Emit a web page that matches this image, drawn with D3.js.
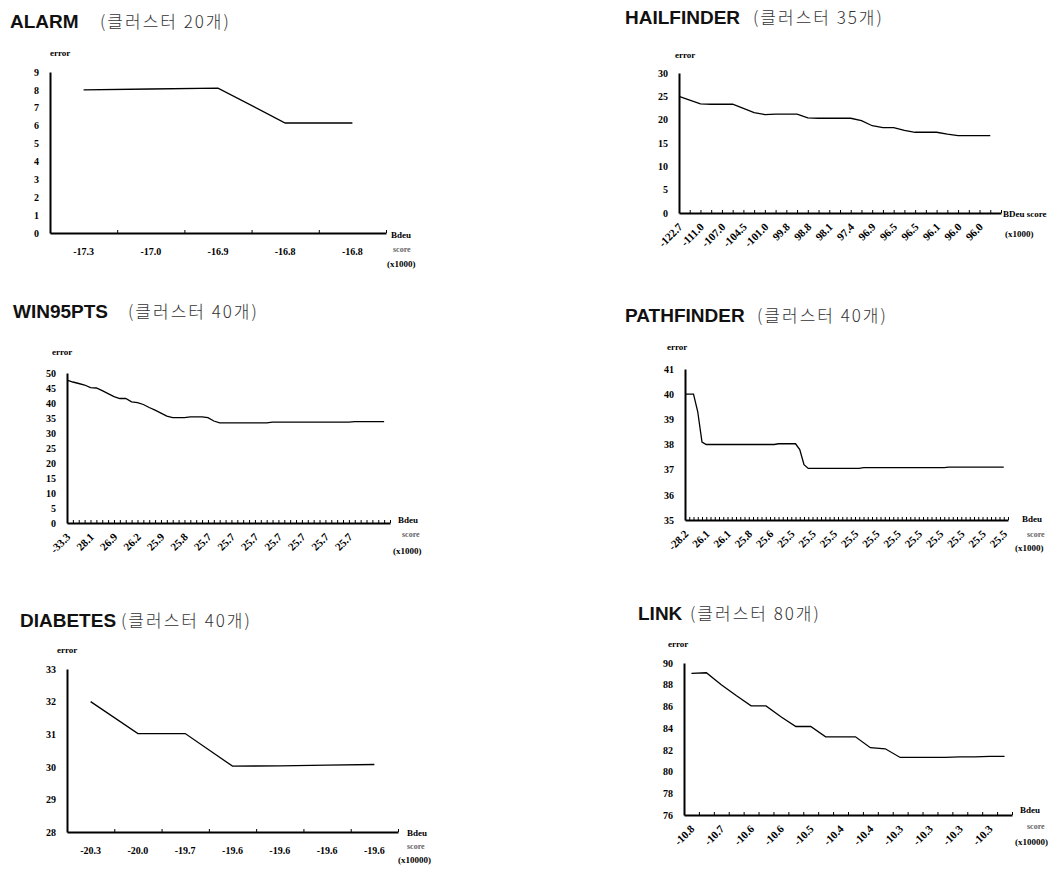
<!DOCTYPE html>
<html>
<head>
<meta charset="utf-8">
<script src="https://cdnjs.cloudflare.com/ajax/libs/d3/7.8.5/d3.min.js"></script>
<style>
  body { margin: 0; background: #fff; }
  .ttl { font-family: "Liberation Sans", Arial, sans-serif; font-weight: bold; font-size: 19px; fill: #111; }
  .kor { font-family: "Noto Sans CJK KR", sans-serif; font-weight: 300; font-size: 17px; letter-spacing: 2px; fill: #333; }
  .axis text { font-family: "Liberation Serif", "Times New Roman", serif; font-weight: bold; font-size: 10px; fill: #000; }
  .axis path, .axis line { stroke: #000; }
  .axis path { stroke-width: 2; }
  .xlab text { font-size: 10px; }
  .xlab.rot text { font-size: 11px; }
  .small { font-family: "Liberation Serif", "Times New Roman", serif; font-weight: bold; font-size: 9px; fill: #000; }
  .faint { fill: #666; font-size: 8px; }
</style>
</head>
<body>
<div class="chart"></div>
<script>

// ---- data ----

var alarmLabels = ["-17.3", "-17.0", "-16.9", "-16.8", "-16.8"]
var alarmError  = [8.0, 8.05, 8.1, 6.15, 6.15]
var alarmTicks  = [0, 1, 2, 3, 4, 5, 6, 7, 8, 9]

var hailLabels = ["-122.7", "-111.0", "-107.0", "-104.5", "-101.0", "99.8", "98.8", "98.1",
                  "97.4", "96.9", "96.5", "96.5", "96.1", "96.0", "96.0"]
var hailError  = [25.0, 24.2, 23.4, 23.3, 23.3, 23.3, 22.4, 21.5, 21.1, 21.2,
                  21.2, 21.2, 20.4, 20.3, 20.3, 20.3, 20.3, 19.8, 18.7, 18.3,
                  18.3, 17.7, 17.3, 17.3, 17.3, 16.9, 16.6, 16.6, 16.6, 16.6]
var hailTicks  = [0, 5, 10, 15, 20, 25, 30]

var winLabels = ["-33.3", "28.1", "26.9", "26.2", "25.9", "25.8", "25.7",
                 "25.7", "25.7", "25.7", "25.7", "25.7", "25.7"]
var winError  = [47.6, 47.0, 46.5, 46.0, 45.1, 45.0, 44.1, 43.1, 42.1, 41.5,
                 41.5, 40.4, 40.1, 39.5, 38.5, 37.6, 36.6, 35.6, 35.1, 35.1,
                 35.1, 35.4, 35.4, 35.4, 35.1, 34.0, 33.4, 33.4, 33.4, 33.4,
                 33.4, 33.4, 33.4, 33.4, 33.4, 33.6, 33.6, 33.6, 33.6, 33.6,
                 33.6, 33.6, 33.6, 33.6, 33.6, 33.6, 33.6, 33.6, 33.6, 33.8,
                 33.8, 33.8, 33.8, 33.8, 33.8]
var winTicks  = [0, 5, 10, 15, 20, 25, 30, 35, 40, 45, 50]

var pathLabels = ["-28.2", "26.1", "26.1", "25.8", "25.6", "25.5", "25.5", "25.5",
                  "25.5", "25.5", "25.5", "25.5", "25.5", "25.5", "25.5", "25.5"]
var pathError  = [40.0, 40.0, 40.0, 39.3, 38.1, 38.0, 38.0, 38.0, 38.0, 38.0,
                  38.0, 38.0, 38.0, 38.0, 38.0, 38.0, 38.0, 38.0, 38.0, 38.0,
                  38.0, 38.0, 38.03, 38.03, 38.03, 38.03, 38.03, 37.8, 37.2, 37.05,
                  37.05, 37.05, 37.05, 37.05, 37.05, 37.05, 37.05, 37.05, 37.05, 37.05,
                  37.05, 37.05, 37.08, 37.08, 37.08, 37.08, 37.08, 37.08, 37.08, 37.08,
                  37.08, 37.08, 37.08, 37.08, 37.08, 37.08, 37.08, 37.08, 37.08, 37.08,
                  37.08, 37.08, 37.1, 37.1, 37.1, 37.1, 37.1, 37.1, 37.1, 37.1,
                  37.1, 37.1, 37.1, 37.1, 37.1, 37.1]
var pathTicks  = [35, 36, 37, 38, 39, 40, 41]

var diabLabels = ["-20.3", "-20.0", "-19.7", "-19.6", "-19.6", "-19.6", "-19.6"]
var diabError  = [32.0, 31.02, 31.02, 30.02, 30.03, 30.05, 30.07]
var diabTicks  = [28, 29, 30, 31, 32, 33]

var linkLabels = ["-10.8", "-10.7", "-10.6", "-10.6", "-10.5", "-10.4", "-10.4",
                  "-10.3", "-10.3", "-10.3", "-10.3"]
var linkError  = [89.05, 89.1, 88.0, 87.0, 86.05, 86.05, 85.05, 84.15, 84.15, 83.2,
                  83.2, 83.2, 82.2, 82.1, 81.3, 81.3, 81.3, 81.3, 81.35, 81.35,
                  81.4, 81.4]
var linkTicks  = [76, 78, 80, 82, 84, 86, 88, 90]

// ---- panel layout ----

var panels = [
  { name: "ALARM", note: "(클러스터 20개)", labels: alarmLabels, values: alarmError, yTicks: alarmTicks,
    band: true, rotate: false, every: 1,
    x0: 50, x1: 386, yTop: 72, yBot: 233, title: [10, 28], noteX: 100, err: [50, 56],
    unit: [["Bdeu", 5, 5, ""], ["score", 7, 19, "faint"], ["(x1000)", 1, 34, ""]] },
  { name: "HAILFINDER", note: "(클러스터 35개)", labels: hailLabels, values: hailError, yTicks: hailTicks,
    band: false, rotate: true, every: 2,
    x0: 679, x1: 1001, yTop: 73, yBot: 213, title: [625, 24], noteX: 753, err: [675, 58],
    unit: [["BDeu score", 2, 4, ""], ["(x1000)", 4, 24, ""]] },
  { name: "WIN95PTS", note: "(클러스터 40개)", labels: winLabels, values: winError, yTicks: winTicks,
    band: false, rotate: true, every: 4,
    x0: 67, x1: 390, yTop: 373, yBot: 523, title: [13, 318], noteX: 128, err: [52, 355],
    unit: [["Bdeu", 8, 0, ""], ["score", 12, 14, "faint"], ["(x1000)", 3, 31, ""]] },
  { name: "PATHFINDER", note: "(클러스터 40개)", labels: pathLabels, values: pathError, yTicks: pathTicks,
    band: false, rotate: true, every: 5,
    x0: 685, x1: 1008, yTop: 369, yBot: 520, title: [625, 322], noteX: 757, err: [667, 350],
    unit: [["Bdeu", 14, 2, ""], ["score", 19, 17, "faint"], ["(x1000)", 7, 31, ""]] },
  { name: "DIABETES", note: "(클러스터 40개)", labels: diabLabels, values: diabError, yTicks: diabTicks,
    band: true, rotate: false, every: 1,
    x0: 67, x1: 398, yTop: 669, yBot: 832, title: [20, 627], noteX: 121, err: [57, 653],
    unit: [["Bdeu", 9, 4, ""], ["score", 9, 17, "faint"], ["(x10000)", 0, 31, ""]] },
  { name: "LINK", note: "(클러스터 80개)", labels: linkLabels, values: linkError, yTicks: linkTicks,
    band: true, rotate: true, every: 2,
    x0: 684, x1: 1012, yTop: 663, yBot: 815, title: [638, 620], noteX: 690, err: [668, 647],
    unit: [["Bdeu", 8, -2, ""], ["score", 15, 14, "faint"], ["(x10000)", 3, 30, ""]] }
]

var svg = d3.select(".chart")
  .append("svg")
    .attr("width", 1053)
    .attr("height", 870)

function drawPanel(p) {
  var n = p.values.length
  var g = svg.append("g")

  // band scale for categories; linear one for the tick marks along the axis
  var x = d3.scaleBand()
            .domain(d3.range(n))
            .range([p.x0, p.x1])
  var xt = d3.scaleLinear()
            .domain([0, n])
            .range([p.x0, p.x1])
  var y = d3.scaleLinear()
            .domain([p.yTicks[0], p.yTicks[p.yTicks.length - 1]])
            .range([p.yBot, p.yTop])

  function px(i) { return p.band ? x(i) + x.bandwidth() / 2 : xt(i) }

  // title
  g.append("text").attr("class", "ttl")
    .attr("x", p.title[0]).attr("y", p.title[1])
    .text(p.name)
  g.append("text").attr("class", "kor")
    .attr("x", p.noteX).attr("y", p.title[1])
    .text(p.note)

  g.append("text").attr("class", "small")
    .attr("x", p.err[0]).attr("y", p.err[1])
    .text("error")

  // y axis
  g.append("g")
      .attr("class", "axis")
      .attr("transform", "translate(" + p.x0 + ",0)")
      .call(d3.axisLeft(y)
              .tickValues(p.yTicks)
              .tickFormat(d3.format("d"))
              .tickSize(0)
              .tickPadding(11))

  // x axis line + small upward ticks
  g.append("g")
      .attr("class", "axis")
      .attr("transform", "translate(0," + p.yBot + ")")
      .call(d3.axisBottom(xt)
              .tickValues(d3.range(0, n + 1))
              .tickSizeInner(-3)
              .tickSizeOuter(0)
              .tickFormat(""))

  // x tick labels
  var shown = d3.range(0, n, p.every)
  var labScale = p.band ? x : xt
  var lab = g.append("g")
      .attr("class", "axis xlab" + (p.rotate ? " rot" : ""))
      .attr("transform", "translate(0," + p.yBot + ")")
      .call(d3.axisBottom(labScale)
              .tickValues(shown)
              .tickSize(0)
              .tickPadding(15)
              .tickFormat(function(d, k) { return p.labels[k] }))
  lab.select(".domain").remove()

  if (p.rotate) {
    lab.selectAll("text")
        .attr("x", 0)
        .attr("y", 0)
        .attr("dy", "0.35em")
        .attr("transform", "translate(1,12) rotate(-45)")
        .style("text-anchor", "end")
  }

  // axis unit text at the right end
  g.selectAll("text.unit")
    .data(p.unit)
    .enter()
    .append("text")
      .attr("class", function(d) { return "small unit " + d[3] })
      .attr("x", function(d) { return p.x1 + d[1] })
      .attr("y", function(d) { return p.yBot + d[2] })
      .text(function(d) { return d[0] })

  // the error line
  var line = d3.line()
      .x(function(d, i) { return px(i) })
      .y(function(d) { return y(d) })

  g.append("path")
      .datum(p.values)
      .attr("fill", "none")
      .attr("stroke", "#000")
      .attr("stroke-width", 1.3)
      .attr("d", line)
}

panels.forEach(drawPanel)

</script>
</body>
</html>
